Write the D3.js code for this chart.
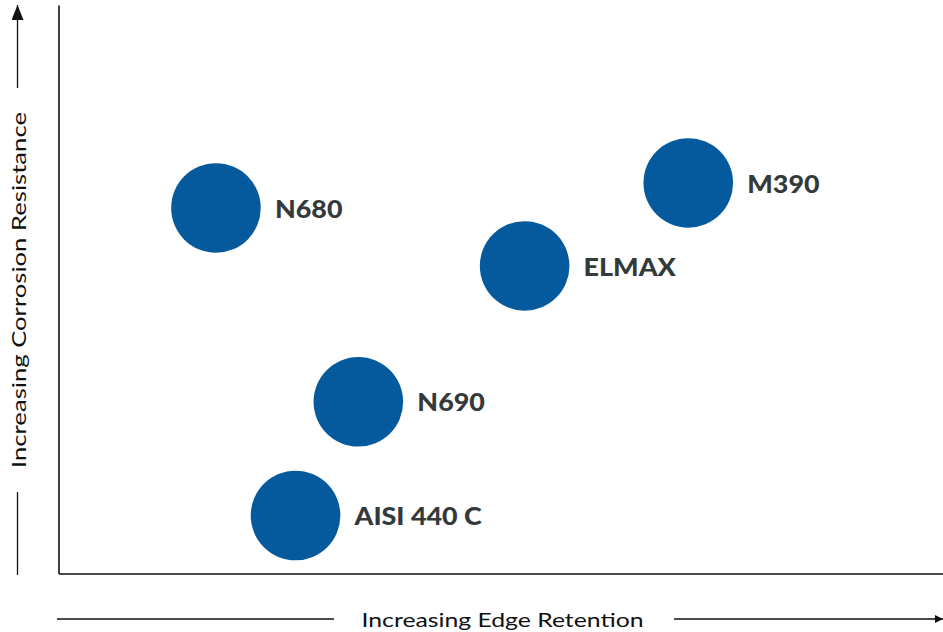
<!DOCTYPE html>
<html>
<head>
<meta charset="utf-8">
<script src="https://d3js.org/d3.v7.min.js"></script>
<style>
  body { margin: 0; background: #fff; }
</style>
</head>
<body>
<div id="my_dataviz"></div>
<script>
    // steel grades, placed by edge retention (x) and corrosion resistance (y), 0-100 scale
    var grades = ["N680", "AISI 440 C", "N690", "ELMAX", "M390"];
    var edgeRetention = [17.8, 26.8, 33.9, 52.7, 71.2];
    var corrosionResistance = [64.3, 10.2, 30.2, 54.1, 68.7];
    var xTitle = "Increasing Edge Retention";
    var yTitle = "Increasing Corrosion Resistance";

    var W = 943, H = 632;
    var margin = { top: 5, right: 0, bottom: 58, left: 58.5 };

    var svg = d3.select("#my_dataviz")
        .append("svg")
        .attr("width", W)
        .attr("height", H);

    var defs = svg.append("defs");
    defs.append("marker")
        .attr("id", "arrow")
        .attr("viewBox", "0 0 10 10")
        .attr("refX", 10).attr("refY", 5)
        .attr("markerWidth", 8).attr("markerHeight", 8)
        .attr("markerUnits", "userSpaceOnUse")
        .attr("orient", "auto")
        .append("path")
        .attr("d", "M0,0 L10,5 L0,10 z")
        .attr("fill", "#111");
    defs.append("marker")
        .attr("id", "arrowBig")
        .attr("viewBox", "0 0 10 10")
        .attr("refX", 10).attr("refY", 5)
        .attr("markerWidth", 15).attr("markerHeight", 12)
        .attr("markerUnits", "userSpaceOnUse")
        .attr("orient", "auto")
        .attr("preserveAspectRatio", "none")
        .append("path")
        .attr("d", "M0,0 L10,5 L0,10 z")
        .attr("fill", "#111");

    var x = d3.scaleLinear().domain([0, 100]).range([margin.left, W - margin.right]);
    var y = d3.scaleLinear().domain([0, 100]).range([H - margin.bottom - 0.5, margin.top]);

    // axes: plain lines, no ticks
    svg.append("g")
        .attr("transform", "translate(" + margin.left + ",0)")
        .call(d3.axisLeft(y).ticks(0).tickSize(0).tickSizeOuter(0))
        .select(".domain").attr("stroke", "#111").attr("stroke-width", 1.6);
    svg.append("g")
        .attr("transform", "translate(0," + y(0) + ")")
        .call(d3.axisBottom(x).ticks(0).tickSize(0).tickSizeOuter(0))
        .select(".domain").attr("stroke", "#111").attr("stroke-width", 1.6);

    // x title with arrow lines
    svg.append("text")
        .attr("x", 502.5)
        .attr("y", 626.5)
        .attr("text-anchor", "middle")
        .attr("fill", "#111")
        .attr("textLength", 282)
        .attr("lengthAdjust", "spacingAndGlyphs")
        .style("font-family", "Lato, 'Open Sans', sans-serif")
        .style("font-size", "20px")
        .text(xTitle);
    svg.append("line")
        .attr("x1", 57).attr("x2", 334)
        .attr("y1", 619).attr("y2", 619)
        .attr("stroke", "#111").attr("stroke-width", 1.3);
    svg.append("line")
        .attr("x1", 674).attr("x2", 943)
        .attr("y1", 619).attr("y2", 619)
        .attr("stroke", "#111").attr("stroke-width", 1.3)
        .attr("marker-end", "url(#arrow)");

    // y title with arrow lines
    svg.append("text")
        .attr("transform", "translate(26,290) rotate(-90)")
        .attr("text-anchor", "middle")
        .attr("fill", "#111")
        .attr("textLength", 356)
        .attr("lengthAdjust", "spacingAndGlyphs")
        .style("font-family", "Lato, 'Open Sans', sans-serif")
        .style("font-size", "20px")
        .text(yTitle);
    svg.append("line")
        .attr("x1", 17.5).attr("x2", 17.5)
        .attr("y1", 88).attr("y2", 5)
        .attr("stroke", "#111").attr("stroke-width", 1.3)
        .attr("marker-end", "url(#arrowBig)");
    svg.append("line")
        .attr("x1", 17.5).attr("x2", 17.5)
        .attr("y1", 492).attr("y2", 575)
        .attr("stroke", "#111").attr("stroke-width", 1.3);

    // bubbles
    var data = grades.map(function (g, i) {
        return { name: g, ex: edgeRetention[i], cr: corrosionResistance[i] };
    });

    svg.selectAll("circle.grade")
        .data(data)
        .enter()
        .append("circle")
        .attr("class", "grade")
        .attr("cx", function (d) { return x(d.ex); })
        .attr("cy", function (d) { return y(d.cr); })
        .attr("r", 44.8)
        .attr("fill", "#045a9c");

    var labels = svg.selectAll("text.grade")
        .data(data)
        .enter()
        .append("text")
        .attr("class", "grade")
        .attr("x", function (d) { return x(d.ex) + 59; })
        .attr("y", function (d) { return y(d.cr); })
        .attr("dy", "0.4em")
        .attr("fill", "#343a3b")
        .style("font-family", "Lato, 'Open Sans', sans-serif")
        .style("font-weight", "900")
        .style("font-size", "24px")
        .text(function (d) { return d.name; });

    // the original face is wider than Lato; stretch each label a bit
    labels.each(function () {
        var w = this.getComputedTextLength();
        d3.select(this)
            .attr("textLength", w * 1.12)
            .attr("lengthAdjust", "spacingAndGlyphs");
    });
</script>
</body>
</html>
